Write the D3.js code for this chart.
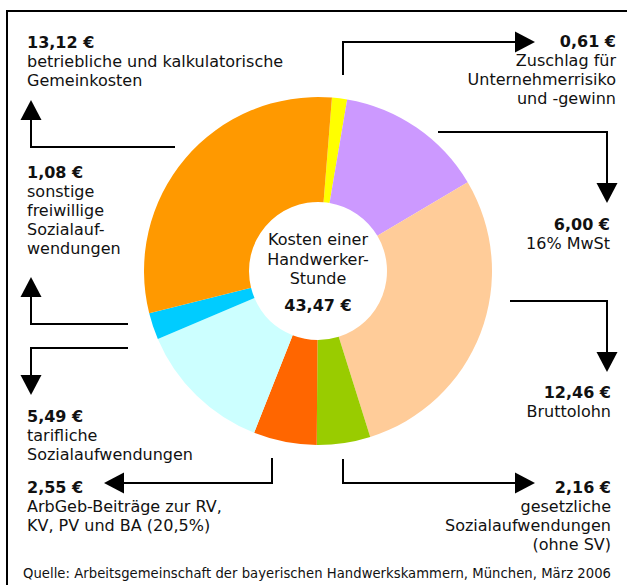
<!DOCTYPE html>
<html lang="de">
<head>
<meta charset="UTF-8">
<title>Kosten einer Handwerkerstunde</title>
<script src="https://d3js.org/d3.v7.min.js"></script>
<style>
  body { margin: 0; background: #fff; }
  text { font-family: "DejaVu Sans", Verdana, sans-serif; fill: #111; }
</style>
</head>
<body>
<svg width="627" height="585"></svg>
<script>
    // Daten: im Uhrzeigersinn, beginnend mit dem gelben Segment oben
    var names = ['Zuschlag', 'MwSt', 'Bruttolohn', 'gesetzlich', 'ArbGeb', 'tariflich', 'sonstige', 'Gemeinkosten'];
    var values = [0.61, 6.00, 12.46, 2.16, 2.55, 5.49, 1.08, 13.12];
    var colors = ['#FFFF00', '#CC99FF', '#FFCC99', '#99CC00', '#FF6600', '#CCFFFF', '#00CCFF', '#FF9900'];
    var texts = [
        ['Zuschlag für', 'Unternehmerrisiko', 'und -gewinn'],
        ['16% MwSt'],
        ['Bruttolohn'],
        ['gesetzliche', 'Sozialaufwendungen', '(ohne SV)'],
        ['ArbGeb-Beiträge zur RV,', 'KV, PV und BA (20,5%)'],
        ['tarifliche', 'Sozialaufwendungen'],
        ['sonstige', 'freiwillige', 'Sozialauf-', 'wendungen'],
        ['betriebliche und kalkulatorische', 'Gemeinkosten']
    ];
    var centerLines = ['Kosten einer', 'Handwerker-', 'Stunde'];
    var source = 'Quelle: Arbeitsgemeinschaft der bayerischen Handwerkskammern, München, März 2006';

    // Lage der Beschriftungen und Pfeile (Pixel)
    var labelPos = [
        { x: 616, y: 47, anchor: 'end' },
        { x: 610, y: 230, anchor: 'end' },
        { x: 611, y: 398, anchor: 'end' },
        { x: 611, y: 493, anchor: 'end' },
        { x: 27, y: 493, anchor: 'start' },
        { x: 27, y: 422, anchor: 'start' },
        { x: 27, y: 178, anchor: 'start' },
        { x: 27, y: 48, anchor: 'start' }
    ];
    var arrows = [
        [[343, 75], [343, 42], [535, 42]],
        [[438, 132], [607, 132], [607, 203]],
        [[510, 301], [607, 301], [607, 372]],
        [[343, 459], [343, 483], [535, 483]],
        [[272, 458], [272, 483], [104, 483]],
        [[128, 348], [31, 348], [31, 395]],
        [[128, 324], [31, 324], [31, 277]],
        [[175, 147], [31, 147], [31, 100]]
    ];

    var fmt = function (v) { return d3.format('.2f')(v).replace('.', ',') + ' €'; };

    var svg = d3.select('svg');

    // Rahmen (rechts und unten ausserhalb des Bildes)
    svg.append('rect')
        .attr('x', 7).attr('y', 11)
        .attr('width', 640).attr('height', 600)
        .attr('fill', 'none').attr('stroke', '#000').attr('stroke-width', 2);

    var cx = 318, cy = 271;
    var start = 4.6 * Math.PI / 180;
    var pie = d3.pie().sort(null).startAngle(start).endAngle(start + 2 * Math.PI);
    var arc = d3.arc().innerRadius(69).outerRadius(174);

    var g = svg.append('g').attr('transform', 'translate(' + cx + ',' + cy + ')');
    g.selectAll('path')
        .data(pie(values))
        .enter()
        .append('path')
        .attr('d', arc)
        .attr('fill', function (d, i) { return colors[i]; });

    // Mitte
    var mid = g.append('text').attr('text-anchor', 'middle').attr('font-size', 16);
    centerLines.forEach(function (t, i) {
        mid.append('tspan').attr('x', 0).attr('y', -26 + i * 19.5).text(t);
    });
    g.append('text').attr('text-anchor', 'middle').attr('font-size', 16)
        .attr('font-weight', 'bold').attr('y', 40)
        .text(fmt(d3.sum(values)));

    // Pfeile
    var line = d3.line();
    arrows.forEach(function (pts) {
        var n = pts.length;
        var tip = pts[n - 1], prev = pts[n - 2];
        var dx = tip[0] - prev[0], dy = tip[1] - prev[1];
        var len = Math.sqrt(dx * dx + dy * dy);
        var ux = dx / len, uy = dy / len;
        var base = [tip[0] - ux * 20, tip[1] - uy * 20];
        var linePts = pts.slice(0, n - 1).concat([base]);
        svg.append('path').attr('d', line(linePts))
            .attr('fill', 'none').attr('stroke', '#000').attr('stroke-width', 2);
        svg.append('path')
            .attr('d', line([tip, [base[0] - uy * 10.5, base[1] + ux * 10.5], [base[0] + uy * 10.5, base[1] - ux * 10.5]]) + 'Z')
            .attr('fill', '#000');
    });

    // Beschriftungen
    labelPos.forEach(function (p, i) {
        var t = svg.append('text').attr('text-anchor', p.anchor).attr('font-size', 16);
        t.append('tspan').attr('x', p.x).attr('y', p.y).attr('font-weight', 'bold').text(fmt(values[i]));
        texts[i].forEach(function (s, j) {
            t.append('tspan').attr('x', p.x).attr('y', p.y + 19 * (j + 1)).text(s);
        });
    });

    svg.append('text').attr('x', 23).attr('y', 578).attr('font-size', 13.2)
        .attr('textLength', 588).attr('lengthAdjust', 'spacing')
        .text(source);
</script>
</body>
</html>
